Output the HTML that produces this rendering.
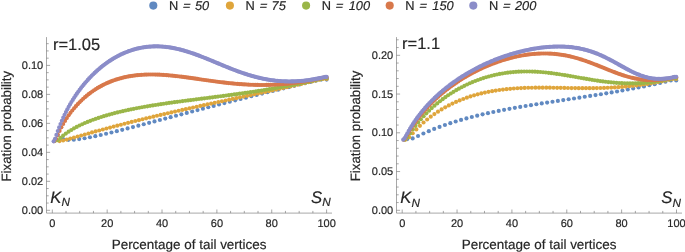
<!DOCTYPE html>
<html><head><meta charset="utf-8"><title>Fixation probability</title>
<style>html,body{margin:0;padding:0;background:#fff}svg{display:block;will-change:transform}text{font-family:"Liberation Sans",sans-serif;fill:#262626;stroke:#262626;stroke-width:0.18px;text-rendering:geometricPrecision}</style></head>
<body>
<svg width="685" height="252" viewBox="0 0 685 252">
<rect width="685" height="252" fill="#fff"/>
<defs><filter id="soft" x="-5%" y="-5%" width="110%" height="110%"><feGaussianBlur stdDeviation="0.32"/></filter></defs>
<circle cx="153.3" cy="5.6" r="4.05" fill="#6089c1"/><text x="168.9" y="9.5" font-size="12.8">N</text><text transform="translate(182.3 9.5) skewX(-12)" font-size="12.8">=</text><text x="195.0" y="9.5" font-size="12.8" font-style="italic">50</text>
<circle cx="229.9" cy="5.6" r="4.05" fill="#dfa53b"/><text x="245.5" y="9.5" font-size="12.8">N</text><text transform="translate(258.9 9.5) skewX(-12)" font-size="12.8">=</text><text x="271.6" y="9.5" font-size="12.8" font-style="italic">75</text>
<circle cx="306.1" cy="5.6" r="4.05" fill="#9ab648"/><text x="321.7" y="9.5" font-size="12.8">N</text><text transform="translate(335.1 9.5) skewX(-12)" font-size="12.8">=</text><text x="348.7" y="9.5" font-size="12.8" font-style="italic">100</text>
<circle cx="389.7" cy="5.6" r="4.05" fill="#d8784b"/><text x="405.3" y="9.5" font-size="12.8">N</text><text transform="translate(418.7 9.5) skewX(-12)" font-size="12.8">=</text><text x="432.3" y="9.5" font-size="12.8" font-style="italic">150</text>
<circle cx="473.3" cy="5.6" r="4.05" fill="#8b8dc9"/><text x="488.9" y="9.5" font-size="12.8">N</text><text transform="translate(502.3 9.5) skewX(-12)" font-size="12.8">=</text><text x="515.0" y="9.5" font-size="12.8" font-style="italic">200</text>
<g filter="url(#soft)"><g fill="#6089c1"><circle cx="57.68" cy="135.05" r="2.08"/><circle cx="63.06" cy="139.04" r="2.08"/><circle cx="68.44" cy="139.82" r="2.08"/><circle cx="73.81" cy="139.67" r="2.08"/><circle cx="79.19" cy="139.08" r="2.08"/><circle cx="84.57" cy="138.24" r="2.08"/><circle cx="89.95" cy="137.25" r="2.08"/><circle cx="95.33" cy="136.15" r="2.08"/><circle cx="100.71" cy="134.97" r="2.08"/><circle cx="106.08" cy="133.74" r="2.08"/><circle cx="111.46" cy="132.46" r="2.08"/><circle cx="116.84" cy="131.14" r="2.08"/><circle cx="122.22" cy="129.80" r="2.08"/><circle cx="127.60" cy="128.44" r="2.08"/><circle cx="132.98" cy="127.06" r="2.08"/><circle cx="138.35" cy="125.67" r="2.08"/><circle cx="143.73" cy="124.26" r="2.08"/><circle cx="149.11" cy="122.85" r="2.08"/><circle cx="154.49" cy="121.44" r="2.08"/><circle cx="159.87" cy="120.02" r="2.08"/><circle cx="165.25" cy="118.59" r="2.08"/><circle cx="170.63" cy="117.17" r="2.08"/><circle cx="176.00" cy="115.75" r="2.08"/><circle cx="181.38" cy="114.33" r="2.08"/><circle cx="186.76" cy="112.91" r="2.08"/><circle cx="192.14" cy="111.49" r="2.08"/><circle cx="197.52" cy="110.08" r="2.08"/><circle cx="202.90" cy="108.68" r="2.08"/><circle cx="208.27" cy="107.27" r="2.08"/><circle cx="213.65" cy="105.88" r="2.08"/><circle cx="219.03" cy="104.49" r="2.08"/><circle cx="224.41" cy="103.10" r="2.08"/><circle cx="229.79" cy="101.72" r="2.08"/><circle cx="235.17" cy="100.35" r="2.08"/><circle cx="240.55" cy="98.99" r="2.08"/><circle cx="245.92" cy="97.63" r="2.08"/><circle cx="251.30" cy="96.29" r="2.08"/><circle cx="256.68" cy="94.95" r="2.08"/><circle cx="262.06" cy="93.62" r="2.08"/><circle cx="267.44" cy="92.29" r="2.08"/><circle cx="272.82" cy="90.98" r="2.08"/><circle cx="278.19" cy="89.67" r="2.08"/><circle cx="283.57" cy="88.37" r="2.08"/><circle cx="288.95" cy="87.09" r="2.08"/><circle cx="294.33" cy="85.81" r="2.08"/><circle cx="299.71" cy="84.54" r="2.08"/><circle cx="305.09" cy="83.28" r="2.08"/><circle cx="310.46" cy="82.02" r="2.08"/><circle cx="315.84" cy="80.78" r="2.08"/><circle cx="321.22" cy="79.55" r="2.08"/><circle cx="326.60" cy="79.55" r="2.08"/></g>
<g fill="#dfa53b"><circle cx="55.91" cy="139.57" r="2.08"/><circle cx="59.52" cy="141.08" r="2.08"/><circle cx="63.13" cy="140.52" r="2.08"/><circle cx="66.74" cy="139.60" r="2.08"/><circle cx="70.35" cy="138.59" r="2.08"/><circle cx="73.96" cy="137.56" r="2.08"/><circle cx="77.56" cy="136.53" r="2.08"/><circle cx="81.17" cy="135.50" r="2.08"/><circle cx="84.78" cy="134.48" r="2.08"/><circle cx="88.39" cy="133.46" r="2.08"/><circle cx="92.00" cy="132.45" r="2.08"/><circle cx="95.61" cy="131.45" r="2.08"/><circle cx="99.22" cy="130.46" r="2.08"/><circle cx="102.83" cy="129.48" r="2.08"/><circle cx="106.44" cy="128.51" r="2.08"/><circle cx="110.05" cy="127.55" r="2.08"/><circle cx="113.66" cy="126.59" r="2.08"/><circle cx="117.27" cy="125.64" r="2.08"/><circle cx="120.88" cy="124.71" r="2.08"/><circle cx="124.48" cy="123.78" r="2.08"/><circle cx="128.09" cy="122.86" r="2.08"/><circle cx="131.70" cy="121.94" r="2.08"/><circle cx="135.31" cy="121.04" r="2.08"/><circle cx="138.92" cy="120.14" r="2.08"/><circle cx="142.53" cy="119.25" r="2.08"/><circle cx="146.14" cy="118.37" r="2.08"/><circle cx="149.75" cy="117.50" r="2.08"/><circle cx="153.36" cy="116.64" r="2.08"/><circle cx="156.97" cy="115.78" r="2.08"/><circle cx="160.58" cy="114.93" r="2.08"/><circle cx="164.19" cy="114.08" r="2.08"/><circle cx="167.79" cy="113.24" r="2.08"/><circle cx="171.40" cy="112.41" r="2.08"/><circle cx="175.01" cy="111.59" r="2.08"/><circle cx="178.62" cy="110.77" r="2.08"/><circle cx="182.23" cy="109.95" r="2.08"/><circle cx="185.84" cy="109.14" r="2.08"/><circle cx="189.45" cy="108.34" r="2.08"/><circle cx="193.06" cy="107.53" r="2.08"/><circle cx="196.67" cy="106.74" r="2.08"/><circle cx="200.28" cy="105.94" r="2.08"/><circle cx="203.89" cy="105.15" r="2.08"/><circle cx="207.50" cy="104.37" r="2.08"/><circle cx="211.11" cy="103.58" r="2.08"/><circle cx="214.71" cy="102.80" r="2.08"/><circle cx="218.32" cy="102.02" r="2.08"/><circle cx="221.93" cy="101.24" r="2.08"/><circle cx="225.54" cy="100.47" r="2.08"/><circle cx="229.15" cy="99.69" r="2.08"/><circle cx="232.76" cy="98.92" r="2.08"/><circle cx="236.37" cy="98.14" r="2.08"/><circle cx="239.98" cy="97.37" r="2.08"/><circle cx="243.59" cy="96.60" r="2.08"/><circle cx="247.20" cy="95.82" r="2.08"/><circle cx="250.81" cy="95.05" r="2.08"/><circle cx="254.42" cy="94.27" r="2.08"/><circle cx="258.02" cy="93.49" r="2.08"/><circle cx="261.63" cy="92.71" r="2.08"/><circle cx="265.24" cy="91.93" r="2.08"/><circle cx="268.85" cy="91.15" r="2.08"/><circle cx="272.46" cy="90.36" r="2.08"/><circle cx="276.07" cy="89.57" r="2.08"/><circle cx="279.68" cy="88.78" r="2.08"/><circle cx="283.29" cy="87.98" r="2.08"/><circle cx="286.90" cy="87.18" r="2.08"/><circle cx="290.51" cy="86.38" r="2.08"/><circle cx="294.12" cy="85.57" r="2.08"/><circle cx="297.73" cy="84.76" r="2.08"/><circle cx="301.34" cy="83.94" r="2.08"/><circle cx="304.94" cy="83.12" r="2.08"/><circle cx="308.55" cy="82.29" r="2.08"/><circle cx="312.16" cy="81.45" r="2.08"/><circle cx="315.77" cy="80.61" r="2.08"/><circle cx="319.38" cy="79.76" r="2.08"/><circle cx="322.99" cy="78.90" r="2.08"/><circle cx="326.60" cy="78.90" r="2.08"/></g>
<g fill="#9ab648"><circle cx="55.02" cy="140.80" r="2.08"/><circle cx="57.73" cy="140.11" r="2.08"/><circle cx="60.45" cy="137.86" r="2.08"/><circle cx="63.16" cy="135.62" r="2.08"/><circle cx="65.88" cy="133.56" r="2.08"/><circle cx="68.60" cy="131.68" r="2.08"/><circle cx="71.31" cy="129.96" r="2.08"/><circle cx="74.03" cy="128.37" r="2.08"/><circle cx="76.74" cy="126.90" r="2.08"/><circle cx="79.46" cy="125.53" r="2.08"/><circle cx="82.17" cy="124.25" r="2.08"/><circle cx="84.89" cy="123.04" r="2.08"/><circle cx="87.61" cy="121.90" r="2.08"/><circle cx="90.32" cy="120.82" r="2.08"/><circle cx="93.04" cy="119.79" r="2.08"/><circle cx="95.75" cy="118.82" r="2.08"/><circle cx="98.47" cy="117.89" r="2.08"/><circle cx="101.19" cy="117.01" r="2.08"/><circle cx="103.90" cy="116.16" r="2.08"/><circle cx="106.62" cy="115.35" r="2.08"/><circle cx="109.33" cy="114.57" r="2.08"/><circle cx="112.05" cy="113.83" r="2.08"/><circle cx="114.76" cy="113.11" r="2.08"/><circle cx="117.48" cy="112.43" r="2.08"/><circle cx="120.20" cy="111.76" r="2.08"/><circle cx="122.91" cy="111.13" r="2.08"/><circle cx="125.63" cy="110.52" r="2.08"/><circle cx="128.34" cy="109.93" r="2.08"/><circle cx="131.06" cy="109.36" r="2.08"/><circle cx="133.78" cy="108.80" r="2.08"/><circle cx="136.49" cy="108.27" r="2.08"/><circle cx="139.21" cy="107.76" r="2.08"/><circle cx="141.92" cy="107.26" r="2.08"/><circle cx="144.64" cy="106.77" r="2.08"/><circle cx="147.35" cy="106.30" r="2.08"/><circle cx="150.07" cy="105.85" r="2.08"/><circle cx="152.79" cy="105.40" r="2.08"/><circle cx="155.50" cy="104.97" r="2.08"/><circle cx="158.22" cy="104.55" r="2.08"/><circle cx="160.93" cy="104.14" r="2.08"/><circle cx="163.65" cy="103.73" r="2.08"/><circle cx="166.37" cy="103.34" r="2.08"/><circle cx="169.08" cy="102.95" r="2.08"/><circle cx="171.80" cy="102.57" r="2.08"/><circle cx="174.51" cy="102.20" r="2.08"/><circle cx="177.23" cy="101.83" r="2.08"/><circle cx="179.94" cy="101.47" r="2.08"/><circle cx="182.66" cy="101.11" r="2.08"/><circle cx="185.38" cy="100.76" r="2.08"/><circle cx="188.09" cy="100.40" r="2.08"/><circle cx="190.81" cy="100.06" r="2.08"/><circle cx="193.52" cy="99.71" r="2.08"/><circle cx="196.24" cy="99.36" r="2.08"/><circle cx="198.96" cy="99.02" r="2.08"/><circle cx="201.67" cy="98.68" r="2.08"/><circle cx="204.39" cy="98.33" r="2.08"/><circle cx="207.10" cy="97.99" r="2.08"/><circle cx="209.82" cy="97.65" r="2.08"/><circle cx="212.53" cy="97.30" r="2.08"/><circle cx="215.25" cy="96.95" r="2.08"/><circle cx="217.97" cy="96.61" r="2.08"/><circle cx="220.68" cy="96.25" r="2.08"/><circle cx="223.40" cy="95.90" r="2.08"/><circle cx="226.11" cy="95.54" r="2.08"/><circle cx="228.83" cy="95.18" r="2.08"/><circle cx="231.55" cy="94.82" r="2.08"/><circle cx="234.26" cy="94.45" r="2.08"/><circle cx="236.98" cy="94.07" r="2.08"/><circle cx="239.69" cy="93.70" r="2.08"/><circle cx="242.41" cy="93.31" r="2.08"/><circle cx="245.12" cy="92.92" r="2.08"/><circle cx="247.84" cy="92.53" r="2.08"/><circle cx="250.56" cy="92.13" r="2.08"/><circle cx="253.27" cy="91.72" r="2.08"/><circle cx="255.99" cy="91.31" r="2.08"/><circle cx="258.70" cy="90.89" r="2.08"/><circle cx="261.42" cy="90.46" r="2.08"/><circle cx="264.14" cy="90.02" r="2.08"/><circle cx="266.85" cy="89.58" r="2.08"/><circle cx="269.57" cy="89.13" r="2.08"/><circle cx="272.28" cy="88.67" r="2.08"/><circle cx="275.00" cy="88.20" r="2.08"/><circle cx="277.71" cy="87.73" r="2.08"/><circle cx="280.43" cy="87.24" r="2.08"/><circle cx="283.15" cy="86.75" r="2.08"/><circle cx="285.86" cy="86.25" r="2.08"/><circle cx="288.58" cy="85.73" r="2.08"/><circle cx="291.29" cy="85.21" r="2.08"/><circle cx="294.01" cy="84.68" r="2.08"/><circle cx="296.73" cy="84.14" r="2.08"/><circle cx="299.44" cy="83.59" r="2.08"/><circle cx="302.16" cy="83.03" r="2.08"/><circle cx="304.87" cy="82.46" r="2.08"/><circle cx="307.59" cy="81.87" r="2.08"/><circle cx="310.30" cy="81.28" r="2.08"/><circle cx="313.02" cy="80.68" r="2.08"/><circle cx="315.74" cy="80.06" r="2.08"/><circle cx="318.45" cy="79.44" r="2.08"/><circle cx="321.17" cy="78.80" r="2.08"/><circle cx="323.88" cy="78.16" r="2.08"/><circle cx="326.60" cy="78.16" r="2.08"/></g>
<g fill="#d8784b"><circle cx="54.12" cy="141.26" r="2.08"/><circle cx="55.93" cy="138.75" r="2.08"/><circle cx="57.75" cy="134.81" r="2.08"/><circle cx="59.57" cy="130.95" r="2.08"/><circle cx="61.38" cy="127.36" r="2.08"/><circle cx="63.20" cy="124.02" r="2.08"/><circle cx="65.02" cy="120.93" r="2.08"/><circle cx="66.83" cy="118.05" r="2.08"/><circle cx="68.65" cy="115.36" r="2.08"/><circle cx="70.47" cy="112.84" r="2.08"/><circle cx="72.28" cy="110.47" r="2.08"/><circle cx="74.10" cy="108.24" r="2.08"/><circle cx="75.92" cy="106.13" r="2.08"/><circle cx="77.73" cy="104.14" r="2.08"/><circle cx="79.55" cy="102.25" r="2.08"/><circle cx="81.36" cy="100.46" r="2.08"/><circle cx="83.18" cy="98.77" r="2.08"/><circle cx="85.00" cy="97.16" r="2.08"/><circle cx="86.81" cy="95.63" r="2.08"/><circle cx="88.63" cy="94.18" r="2.08"/><circle cx="90.45" cy="92.80" r="2.08"/><circle cx="92.26" cy="91.49" r="2.08"/><circle cx="94.08" cy="90.25" r="2.08"/><circle cx="95.90" cy="89.07" r="2.08"/><circle cx="97.71" cy="87.95" r="2.08"/><circle cx="99.53" cy="86.89" r="2.08"/><circle cx="101.35" cy="85.89" r="2.08"/><circle cx="103.16" cy="84.94" r="2.08"/><circle cx="104.98" cy="84.04" r="2.08"/><circle cx="106.80" cy="83.20" r="2.08"/><circle cx="108.61" cy="82.40" r="2.08"/><circle cx="110.43" cy="81.65" r="2.08"/><circle cx="112.25" cy="80.94" r="2.08"/><circle cx="114.06" cy="80.28" r="2.08"/><circle cx="115.88" cy="79.67" r="2.08"/><circle cx="117.70" cy="79.09" r="2.08"/><circle cx="119.51" cy="78.55" r="2.08"/><circle cx="121.33" cy="78.06" r="2.08"/><circle cx="123.15" cy="77.60" r="2.08"/><circle cx="124.96" cy="77.17" r="2.08"/><circle cx="126.78" cy="76.78" r="2.08"/><circle cx="128.60" cy="76.43" r="2.08"/><circle cx="130.41" cy="76.11" r="2.08"/><circle cx="132.23" cy="75.82" r="2.08"/><circle cx="134.05" cy="75.57" r="2.08"/><circle cx="135.86" cy="75.34" r="2.08"/><circle cx="137.68" cy="75.14" r="2.08"/><circle cx="139.49" cy="74.97" r="2.08"/><circle cx="141.31" cy="74.83" r="2.08"/><circle cx="143.13" cy="74.72" r="2.08"/><circle cx="144.94" cy="74.62" r="2.08"/><circle cx="146.76" cy="74.56" r="2.08"/><circle cx="148.58" cy="74.51" r="2.08"/><circle cx="150.39" cy="74.49" r="2.08"/><circle cx="152.21" cy="74.49" r="2.08"/><circle cx="154.03" cy="74.52" r="2.08"/><circle cx="155.84" cy="74.56" r="2.08"/><circle cx="157.66" cy="74.62" r="2.08"/><circle cx="159.48" cy="74.69" r="2.08"/><circle cx="161.29" cy="74.79" r="2.08"/><circle cx="163.11" cy="74.90" r="2.08"/><circle cx="164.93" cy="75.02" r="2.08"/><circle cx="166.74" cy="75.16" r="2.08"/><circle cx="168.56" cy="75.32" r="2.08"/><circle cx="170.38" cy="75.48" r="2.08"/><circle cx="172.19" cy="75.66" r="2.08"/><circle cx="174.01" cy="75.85" r="2.08"/><circle cx="175.83" cy="76.05" r="2.08"/><circle cx="177.64" cy="76.26" r="2.08"/><circle cx="179.46" cy="76.48" r="2.08"/><circle cx="181.28" cy="76.70" r="2.08"/><circle cx="183.09" cy="76.93" r="2.08"/><circle cx="184.91" cy="77.17" r="2.08"/><circle cx="186.73" cy="77.41" r="2.08"/><circle cx="188.54" cy="77.66" r="2.08"/><circle cx="190.36" cy="77.92" r="2.08"/><circle cx="192.17" cy="78.17" r="2.08"/><circle cx="193.99" cy="78.43" r="2.08"/><circle cx="195.81" cy="78.69" r="2.08"/><circle cx="197.62" cy="78.95" r="2.08"/><circle cx="199.44" cy="79.22" r="2.08"/><circle cx="201.26" cy="79.48" r="2.08"/><circle cx="203.07" cy="79.74" r="2.08"/><circle cx="204.89" cy="80.00" r="2.08"/><circle cx="206.71" cy="80.26" r="2.08"/><circle cx="208.52" cy="80.52" r="2.08"/><circle cx="210.34" cy="80.77" r="2.08"/><circle cx="212.16" cy="81.02" r="2.08"/><circle cx="213.97" cy="81.27" r="2.08"/><circle cx="215.79" cy="81.51" r="2.08"/><circle cx="217.61" cy="81.75" r="2.08"/><circle cx="219.42" cy="81.98" r="2.08"/><circle cx="221.24" cy="82.21" r="2.08"/><circle cx="223.06" cy="82.43" r="2.08"/><circle cx="224.87" cy="82.64" r="2.08"/><circle cx="226.69" cy="82.85" r="2.08"/><circle cx="228.51" cy="83.05" r="2.08"/><circle cx="230.32" cy="83.24" r="2.08"/><circle cx="232.14" cy="83.42" r="2.08"/><circle cx="233.96" cy="83.59" r="2.08"/><circle cx="235.77" cy="83.76" r="2.08"/><circle cx="237.59" cy="83.91" r="2.08"/><circle cx="239.41" cy="84.06" r="2.08"/><circle cx="241.22" cy="84.20" r="2.08"/><circle cx="243.04" cy="84.32" r="2.08"/><circle cx="244.85" cy="84.44" r="2.08"/><circle cx="246.67" cy="84.54" r="2.08"/><circle cx="248.49" cy="84.64" r="2.08"/><circle cx="250.30" cy="84.72" r="2.08"/><circle cx="252.12" cy="84.79" r="2.08"/><circle cx="253.94" cy="84.85" r="2.08"/><circle cx="255.75" cy="84.90" r="2.08"/><circle cx="257.57" cy="84.94" r="2.08"/><circle cx="259.39" cy="84.96" r="2.08"/><circle cx="261.20" cy="84.98" r="2.08"/><circle cx="263.02" cy="84.98" r="2.08"/><circle cx="264.84" cy="84.96" r="2.08"/><circle cx="266.65" cy="84.94" r="2.08"/><circle cx="268.47" cy="84.90" r="2.08"/><circle cx="270.29" cy="84.85" r="2.08"/><circle cx="272.10" cy="84.79" r="2.08"/><circle cx="273.92" cy="84.71" r="2.08"/><circle cx="275.74" cy="84.62" r="2.08"/><circle cx="277.55" cy="84.52" r="2.08"/><circle cx="279.37" cy="84.41" r="2.08"/><circle cx="281.19" cy="84.28" r="2.08"/><circle cx="283.00" cy="84.14" r="2.08"/><circle cx="284.82" cy="83.99" r="2.08"/><circle cx="286.64" cy="83.82" r="2.08"/><circle cx="288.45" cy="83.64" r="2.08"/><circle cx="290.27" cy="83.44" r="2.08"/><circle cx="292.09" cy="83.24" r="2.08"/><circle cx="293.90" cy="83.02" r="2.08"/><circle cx="295.72" cy="82.78" r="2.08"/><circle cx="297.54" cy="82.54" r="2.08"/><circle cx="299.35" cy="82.28" r="2.08"/><circle cx="301.17" cy="82.01" r="2.08"/><circle cx="302.98" cy="81.72" r="2.08"/><circle cx="304.80" cy="81.42" r="2.08"/><circle cx="306.62" cy="81.11" r="2.08"/><circle cx="308.43" cy="80.79" r="2.08"/><circle cx="310.25" cy="80.45" r="2.08"/><circle cx="312.07" cy="80.10" r="2.08"/><circle cx="313.88" cy="79.74" r="2.08"/><circle cx="315.70" cy="79.37" r="2.08"/><circle cx="317.52" cy="78.98" r="2.08"/><circle cx="319.33" cy="78.58" r="2.08"/><circle cx="321.15" cy="78.17" r="2.08"/><circle cx="322.97" cy="77.75" r="2.08"/><circle cx="324.78" cy="77.32" r="2.08"/><circle cx="326.60" cy="77.32" r="2.08"/></g>
<g fill="#8b8dc9"><circle cx="53.66" cy="141.30" r="2.08"/><circle cx="55.03" cy="138.77" r="2.08"/><circle cx="56.39" cy="134.92" r="2.08"/><circle cx="57.76" cy="131.07" r="2.08"/><circle cx="59.12" cy="127.42" r="2.08"/><circle cx="60.49" cy="123.98" r="2.08"/><circle cx="61.85" cy="120.74" r="2.08"/><circle cx="63.22" cy="117.67" r="2.08"/><circle cx="64.58" cy="114.76" r="2.08"/><circle cx="65.95" cy="112.00" r="2.08"/><circle cx="67.31" cy="109.36" r="2.08"/><circle cx="68.68" cy="106.84" r="2.08"/><circle cx="70.04" cy="104.42" r="2.08"/><circle cx="71.41" cy="102.11" r="2.08"/><circle cx="72.77" cy="99.88" r="2.08"/><circle cx="74.13" cy="97.73" r="2.08"/><circle cx="75.50" cy="95.67" r="2.08"/><circle cx="76.86" cy="93.68" r="2.08"/><circle cx="78.23" cy="91.75" r="2.08"/><circle cx="79.59" cy="89.89" r="2.08"/><circle cx="80.96" cy="88.09" r="2.08"/><circle cx="82.32" cy="86.35" r="2.08"/><circle cx="83.69" cy="84.67" r="2.08"/><circle cx="85.05" cy="83.04" r="2.08"/><circle cx="86.42" cy="81.46" r="2.08"/><circle cx="87.78" cy="79.92" r="2.08"/><circle cx="89.15" cy="78.44" r="2.08"/><circle cx="90.51" cy="77.00" r="2.08"/><circle cx="91.88" cy="75.60" r="2.08"/><circle cx="93.24" cy="74.25" r="2.08"/><circle cx="94.60" cy="72.94" r="2.08"/><circle cx="95.97" cy="71.67" r="2.08"/><circle cx="97.33" cy="70.43" r="2.08"/><circle cx="98.70" cy="69.24" r="2.08"/><circle cx="100.06" cy="68.08" r="2.08"/><circle cx="101.43" cy="66.95" r="2.08"/><circle cx="102.79" cy="65.87" r="2.08"/><circle cx="104.16" cy="64.81" r="2.08"/><circle cx="105.52" cy="63.80" r="2.08"/><circle cx="106.89" cy="62.81" r="2.08"/><circle cx="108.25" cy="61.86" r="2.08"/><circle cx="109.62" cy="60.94" r="2.08"/><circle cx="110.98" cy="60.05" r="2.08"/><circle cx="112.35" cy="59.19" r="2.08"/><circle cx="113.71" cy="58.36" r="2.08"/><circle cx="115.08" cy="57.57" r="2.08"/><circle cx="116.44" cy="56.80" r="2.08"/><circle cx="117.80" cy="56.06" r="2.08"/><circle cx="119.17" cy="55.36" r="2.08"/><circle cx="120.53" cy="54.68" r="2.08"/><circle cx="121.90" cy="54.03" r="2.08"/><circle cx="123.26" cy="53.41" r="2.08"/><circle cx="124.63" cy="52.81" r="2.08"/><circle cx="125.99" cy="52.25" r="2.08"/><circle cx="127.36" cy="51.71" r="2.08"/><circle cx="128.72" cy="51.20" r="2.08"/><circle cx="130.09" cy="50.71" r="2.08"/><circle cx="131.45" cy="50.26" r="2.08"/><circle cx="132.82" cy="49.82" r="2.08"/><circle cx="134.18" cy="49.42" r="2.08"/><circle cx="135.55" cy="49.04" r="2.08"/><circle cx="136.91" cy="48.69" r="2.08"/><circle cx="138.27" cy="48.36" r="2.08"/><circle cx="139.64" cy="48.06" r="2.08"/><circle cx="141.00" cy="47.79" r="2.08"/><circle cx="142.37" cy="47.54" r="2.08"/><circle cx="143.73" cy="47.31" r="2.08"/><circle cx="145.10" cy="47.11" r="2.08"/><circle cx="146.46" cy="46.93" r="2.08"/><circle cx="147.83" cy="46.78" r="2.08"/><circle cx="149.19" cy="46.65" r="2.08"/><circle cx="150.56" cy="46.55" r="2.08"/><circle cx="151.92" cy="46.47" r="2.08"/><circle cx="153.29" cy="46.41" r="2.08"/><circle cx="154.65" cy="46.38" r="2.08"/><circle cx="156.02" cy="46.36" r="2.08"/><circle cx="157.38" cy="46.37" r="2.08"/><circle cx="158.74" cy="46.41" r="2.08"/><circle cx="160.11" cy="46.46" r="2.08"/><circle cx="161.47" cy="46.54" r="2.08"/><circle cx="162.84" cy="46.64" r="2.08"/><circle cx="164.20" cy="46.76" r="2.08"/><circle cx="165.57" cy="46.90" r="2.08"/><circle cx="166.93" cy="47.06" r="2.08"/><circle cx="168.30" cy="47.24" r="2.08"/><circle cx="169.66" cy="47.44" r="2.08"/><circle cx="171.03" cy="47.66" r="2.08"/><circle cx="172.39" cy="47.90" r="2.08"/><circle cx="173.76" cy="48.16" r="2.08"/><circle cx="175.12" cy="48.43" r="2.08"/><circle cx="176.49" cy="48.72" r="2.08"/><circle cx="177.85" cy="49.03" r="2.08"/><circle cx="179.21" cy="49.36" r="2.08"/><circle cx="180.58" cy="49.70" r="2.08"/><circle cx="181.94" cy="50.06" r="2.08"/><circle cx="183.31" cy="50.44" r="2.08"/><circle cx="184.67" cy="50.83" r="2.08"/><circle cx="186.04" cy="51.23" r="2.08"/><circle cx="187.40" cy="51.65" r="2.08"/><circle cx="188.77" cy="52.08" r="2.08"/><circle cx="190.13" cy="52.52" r="2.08"/><circle cx="191.50" cy="52.98" r="2.08"/><circle cx="192.86" cy="53.45" r="2.08"/><circle cx="194.23" cy="53.92" r="2.08"/><circle cx="195.59" cy="54.41" r="2.08"/><circle cx="196.96" cy="54.91" r="2.08"/><circle cx="198.32" cy="55.42" r="2.08"/><circle cx="199.69" cy="55.93" r="2.08"/><circle cx="201.05" cy="56.46" r="2.08"/><circle cx="202.41" cy="56.99" r="2.08"/><circle cx="203.78" cy="57.53" r="2.08"/><circle cx="205.14" cy="58.07" r="2.08"/><circle cx="206.51" cy="58.62" r="2.08"/><circle cx="207.87" cy="59.17" r="2.08"/><circle cx="209.24" cy="59.73" r="2.08"/><circle cx="210.60" cy="60.29" r="2.08"/><circle cx="211.97" cy="60.86" r="2.08"/><circle cx="213.33" cy="61.42" r="2.08"/><circle cx="214.70" cy="61.99" r="2.08"/><circle cx="216.06" cy="62.56" r="2.08"/><circle cx="217.43" cy="63.13" r="2.08"/><circle cx="218.79" cy="63.70" r="2.08"/><circle cx="220.16" cy="64.27" r="2.08"/><circle cx="221.52" cy="64.83" r="2.08"/><circle cx="222.88" cy="65.40" r="2.08"/><circle cx="224.25" cy="65.96" r="2.08"/><circle cx="225.61" cy="66.52" r="2.08"/><circle cx="226.98" cy="67.07" r="2.08"/><circle cx="228.34" cy="67.62" r="2.08"/><circle cx="229.71" cy="68.17" r="2.08"/><circle cx="231.07" cy="68.71" r="2.08"/><circle cx="232.44" cy="69.24" r="2.08"/><circle cx="233.80" cy="69.77" r="2.08"/><circle cx="235.17" cy="70.29" r="2.08"/><circle cx="236.53" cy="70.80" r="2.08"/><circle cx="237.90" cy="71.30" r="2.08"/><circle cx="239.26" cy="71.80" r="2.08"/><circle cx="240.63" cy="72.29" r="2.08"/><circle cx="241.99" cy="72.76" r="2.08"/><circle cx="243.35" cy="73.23" r="2.08"/><circle cx="244.72" cy="73.69" r="2.08"/><circle cx="246.08" cy="74.14" r="2.08"/><circle cx="247.45" cy="74.57" r="2.08"/><circle cx="248.81" cy="75.00" r="2.08"/><circle cx="250.18" cy="75.41" r="2.08"/><circle cx="251.54" cy="75.81" r="2.08"/><circle cx="252.91" cy="76.20" r="2.08"/><circle cx="254.27" cy="76.58" r="2.08"/><circle cx="255.64" cy="76.94" r="2.08"/><circle cx="257.00" cy="77.29" r="2.08"/><circle cx="258.37" cy="77.63" r="2.08"/><circle cx="259.73" cy="77.95" r="2.08"/><circle cx="261.10" cy="78.27" r="2.08"/><circle cx="262.46" cy="78.56" r="2.08"/><circle cx="263.82" cy="78.85" r="2.08"/><circle cx="265.19" cy="79.12" r="2.08"/><circle cx="266.55" cy="79.37" r="2.08"/><circle cx="267.92" cy="79.61" r="2.08"/><circle cx="269.28" cy="79.84" r="2.08"/><circle cx="270.65" cy="80.05" r="2.08"/><circle cx="272.01" cy="80.25" r="2.08"/><circle cx="273.38" cy="80.43" r="2.08"/><circle cx="274.74" cy="80.60" r="2.08"/><circle cx="276.11" cy="80.75" r="2.08"/><circle cx="277.47" cy="80.89" r="2.08"/><circle cx="278.84" cy="81.01" r="2.08"/><circle cx="280.20" cy="81.12" r="2.08"/><circle cx="281.57" cy="81.21" r="2.08"/><circle cx="282.93" cy="81.29" r="2.08"/><circle cx="284.30" cy="81.35" r="2.08"/><circle cx="285.66" cy="81.40" r="2.08"/><circle cx="287.02" cy="81.44" r="2.08"/><circle cx="288.39" cy="81.46" r="2.08"/><circle cx="289.75" cy="81.46" r="2.08"/><circle cx="291.12" cy="81.45" r="2.08"/><circle cx="292.48" cy="81.43" r="2.08"/><circle cx="293.85" cy="81.39" r="2.08"/><circle cx="295.21" cy="81.34" r="2.08"/><circle cx="296.58" cy="81.27" r="2.08"/><circle cx="297.94" cy="81.19" r="2.08"/><circle cx="299.31" cy="81.10" r="2.08"/><circle cx="300.67" cy="80.99" r="2.08"/><circle cx="302.04" cy="80.87" r="2.08"/><circle cx="303.40" cy="80.74" r="2.08"/><circle cx="304.77" cy="80.59" r="2.08"/><circle cx="306.13" cy="80.43" r="2.08"/><circle cx="307.49" cy="80.25" r="2.08"/><circle cx="308.86" cy="80.07" r="2.08"/><circle cx="310.22" cy="79.87" r="2.08"/><circle cx="311.59" cy="79.65" r="2.08"/><circle cx="312.95" cy="79.43" r="2.08"/><circle cx="314.32" cy="79.19" r="2.08"/><circle cx="315.68" cy="78.94" r="2.08"/><circle cx="317.05" cy="78.68" r="2.08"/><circle cx="318.41" cy="78.41" r="2.08"/><circle cx="319.78" cy="78.13" r="2.08"/><circle cx="321.14" cy="77.84" r="2.08"/><circle cx="322.51" cy="77.53" r="2.08"/><circle cx="323.87" cy="77.21" r="2.08"/><circle cx="325.24" cy="76.89" r="2.08"/><circle cx="326.60" cy="76.89" r="2.08"/></g>
</g>
<g stroke="#727272" stroke-width="0.62" fill="none" shape-rendering="auto"><path d="M46.5 37.1V213.1H332"/><path d="M52.30 213.1v-3.6M66.02 213.1v-2.2M79.73 213.1v-2.2M93.44 213.1v-2.2M107.16 213.1v-3.6M120.88 213.1v-2.2M134.59 213.1v-2.2M148.31 213.1v-2.2M162.02 213.1v-3.6M175.73 213.1v-2.2M189.45 213.1v-2.2M203.16 213.1v-2.2M216.88 213.1v-3.6M230.59 213.1v-2.2M244.31 213.1v-2.2M258.02 213.1v-2.2M271.74 213.1v-3.6M285.45 213.1v-2.2M299.17 213.1v-2.2M312.88 213.1v-2.2M326.60 213.1v-3.6M46.5 210.30h3.6M46.5 203.06h2.2M46.5 195.81h2.2M46.5 188.56h2.2M46.5 181.32h3.6M46.5 174.08h2.2M46.5 166.83h2.2M46.5 159.59h2.2M46.5 152.34h3.6M46.5 145.10h2.2M46.5 137.85h2.2M46.5 130.61h2.2M46.5 123.36h3.6M46.5 116.12h2.2M46.5 108.87h2.2M46.5 101.63h2.2M46.5 94.38h3.6M46.5 87.14h2.2M46.5 79.89h2.2M46.5 72.65h2.2M46.5 65.40h3.6M46.5 58.16h2.2M46.5 50.91h2.2M46.5 43.66h2.2"/></g>
<text x="52.3" y="227.2" font-size="11" text-anchor="middle">0</text><text x="107.2" y="227.2" font-size="11" text-anchor="middle">20</text><text x="162.0" y="227.2" font-size="11" text-anchor="middle">40</text><text x="216.9" y="227.2" font-size="11" text-anchor="middle">60</text><text x="271.7" y="227.2" font-size="11" text-anchor="middle">80</text><text x="326.6" y="227.2" font-size="11" text-anchor="middle">100</text><text x="43.2" y="213.9" font-size="11" text-anchor="end">0.00</text><text x="43.2" y="184.9" font-size="11" text-anchor="end">0.02</text><text x="43.2" y="155.9" font-size="11" text-anchor="end">0.04</text><text x="43.2" y="127.0" font-size="11" text-anchor="end">0.06</text><text x="43.2" y="98.0" font-size="11" text-anchor="end">0.08</text><text x="43.2" y="69.0" font-size="11" text-anchor="end">0.10</text>
<text x="52.9" y="49.7" font-size="16.5">r=1.05</text><text x="50.2" y="202.7" font-size="16.7" font-style="italic">K<tspan font-size="11.7" dx="0.2" dy="3.4">N</tspan></text><text x="311.0" y="202.9" font-size="16.7" font-style="italic">S<tspan font-size="11.7" dx="0.2" dy="3.2">N</tspan></text><text x="189.1" y="248.8" font-size="13.4" text-anchor="middle" textLength="154.8" lengthAdjust="spacingAndGlyphs">Percentage of tail vertices</text><text transform="translate(11.0 126.2) rotate(-90)" font-size="13.5" text-anchor="middle" textLength="110.6" lengthAdjust="spacingAndGlyphs">Fixation probability</text>
<g filter="url(#soft)"><g fill="#6089c1"><circle cx="407.28" cy="139.10" r="2.08"/><circle cx="412.66" cy="138.44" r="2.08"/><circle cx="418.04" cy="136.02" r="2.08"/><circle cx="423.41" cy="133.52" r="2.08"/><circle cx="428.79" cy="131.16" r="2.08"/><circle cx="434.17" cy="128.94" r="2.08"/><circle cx="439.55" cy="126.88" r="2.08"/><circle cx="444.93" cy="124.96" r="2.08"/><circle cx="450.31" cy="123.16" r="2.08"/><circle cx="455.68" cy="121.47" r="2.08"/><circle cx="461.06" cy="119.88" r="2.08"/><circle cx="466.44" cy="118.39" r="2.08"/><circle cx="471.82" cy="116.97" r="2.08"/><circle cx="477.20" cy="115.63" r="2.08"/><circle cx="482.58" cy="114.36" r="2.08"/><circle cx="487.95" cy="113.16" r="2.08"/><circle cx="493.33" cy="112.01" r="2.08"/><circle cx="498.71" cy="110.91" r="2.08"/><circle cx="504.09" cy="109.86" r="2.08"/><circle cx="509.47" cy="108.84" r="2.08"/><circle cx="514.85" cy="107.87" r="2.08"/><circle cx="520.23" cy="106.93" r="2.08"/><circle cx="525.60" cy="106.02" r="2.08"/><circle cx="530.98" cy="105.13" r="2.08"/><circle cx="536.36" cy="104.26" r="2.08"/><circle cx="541.74" cy="103.41" r="2.08"/><circle cx="547.12" cy="102.57" r="2.08"/><circle cx="552.50" cy="101.74" r="2.08"/><circle cx="557.87" cy="100.92" r="2.08"/><circle cx="563.25" cy="100.10" r="2.08"/><circle cx="568.63" cy="99.28" r="2.08"/><circle cx="574.01" cy="98.46" r="2.08"/><circle cx="579.39" cy="97.63" r="2.08"/><circle cx="584.77" cy="96.79" r="2.08"/><circle cx="590.15" cy="95.94" r="2.08"/><circle cx="595.52" cy="95.08" r="2.08"/><circle cx="600.90" cy="94.21" r="2.08"/><circle cx="606.28" cy="93.31" r="2.08"/><circle cx="611.66" cy="92.40" r="2.08"/><circle cx="617.04" cy="91.46" r="2.08"/><circle cx="622.42" cy="90.50" r="2.08"/><circle cx="627.79" cy="89.52" r="2.08"/><circle cx="633.17" cy="88.50" r="2.08"/><circle cx="638.55" cy="87.46" r="2.08"/><circle cx="643.93" cy="86.39" r="2.08"/><circle cx="649.31" cy="85.28" r="2.08"/><circle cx="654.69" cy="84.15" r="2.08"/><circle cx="660.06" cy="82.97" r="2.08"/><circle cx="665.44" cy="81.76" r="2.08"/><circle cx="670.82" cy="80.52" r="2.08"/><circle cx="676.20" cy="80.52" r="2.08"/></g>
<g fill="#dfa53b"><circle cx="405.51" cy="139.60" r="2.08"/><circle cx="409.12" cy="137.17" r="2.08"/><circle cx="412.73" cy="133.27" r="2.08"/><circle cx="416.34" cy="129.43" r="2.08"/><circle cx="419.95" cy="125.85" r="2.08"/><circle cx="423.56" cy="122.54" r="2.08"/><circle cx="427.16" cy="119.49" r="2.08"/><circle cx="430.77" cy="116.67" r="2.08"/><circle cx="434.38" cy="114.06" r="2.08"/><circle cx="437.99" cy="111.64" r="2.08"/><circle cx="441.60" cy="109.39" r="2.08"/><circle cx="445.21" cy="107.31" r="2.08"/><circle cx="448.82" cy="105.38" r="2.08"/><circle cx="452.43" cy="103.59" r="2.08"/><circle cx="456.04" cy="101.92" r="2.08"/><circle cx="459.65" cy="100.39" r="2.08"/><circle cx="463.26" cy="98.97" r="2.08"/><circle cx="466.87" cy="97.66" r="2.08"/><circle cx="470.47" cy="96.45" r="2.08"/><circle cx="474.08" cy="95.35" r="2.08"/><circle cx="477.69" cy="94.33" r="2.08"/><circle cx="481.30" cy="93.41" r="2.08"/><circle cx="484.91" cy="92.58" r="2.08"/><circle cx="488.52" cy="91.83" r="2.08"/><circle cx="492.13" cy="91.15" r="2.08"/><circle cx="495.74" cy="90.55" r="2.08"/><circle cx="499.35" cy="90.02" r="2.08"/><circle cx="502.96" cy="89.55" r="2.08"/><circle cx="506.57" cy="89.15" r="2.08"/><circle cx="510.18" cy="88.80" r="2.08"/><circle cx="513.79" cy="88.51" r="2.08"/><circle cx="517.39" cy="88.26" r="2.08"/><circle cx="521.00" cy="88.07" r="2.08"/><circle cx="524.61" cy="87.91" r="2.08"/><circle cx="528.22" cy="87.79" r="2.08"/><circle cx="531.83" cy="87.71" r="2.08"/><circle cx="535.44" cy="87.66" r="2.08"/><circle cx="539.05" cy="87.64" r="2.08"/><circle cx="542.66" cy="87.64" r="2.08"/><circle cx="546.27" cy="87.66" r="2.08"/><circle cx="549.88" cy="87.69" r="2.08"/><circle cx="553.49" cy="87.74" r="2.08"/><circle cx="557.10" cy="87.80" r="2.08"/><circle cx="560.71" cy="87.86" r="2.08"/><circle cx="564.31" cy="87.93" r="2.08"/><circle cx="567.92" cy="87.99" r="2.08"/><circle cx="571.53" cy="88.05" r="2.08"/><circle cx="575.14" cy="88.10" r="2.08"/><circle cx="578.75" cy="88.14" r="2.08"/><circle cx="582.36" cy="88.17" r="2.08"/><circle cx="585.97" cy="88.18" r="2.08"/><circle cx="589.58" cy="88.17" r="2.08"/><circle cx="593.19" cy="88.15" r="2.08"/><circle cx="596.80" cy="88.09" r="2.08"/><circle cx="600.41" cy="88.02" r="2.08"/><circle cx="604.02" cy="87.91" r="2.08"/><circle cx="607.62" cy="87.78" r="2.08"/><circle cx="611.23" cy="87.61" r="2.08"/><circle cx="614.84" cy="87.41" r="2.08"/><circle cx="618.45" cy="87.18" r="2.08"/><circle cx="622.06" cy="86.91" r="2.08"/><circle cx="625.67" cy="86.60" r="2.08"/><circle cx="629.28" cy="86.26" r="2.08"/><circle cx="632.89" cy="85.87" r="2.08"/><circle cx="636.50" cy="85.45" r="2.08"/><circle cx="640.11" cy="84.98" r="2.08"/><circle cx="643.72" cy="84.48" r="2.08"/><circle cx="647.33" cy="83.93" r="2.08"/><circle cx="650.94" cy="83.34" r="2.08"/><circle cx="654.54" cy="82.71" r="2.08"/><circle cx="658.15" cy="82.04" r="2.08"/><circle cx="661.76" cy="81.32" r="2.08"/><circle cx="665.37" cy="80.57" r="2.08"/><circle cx="668.98" cy="79.77" r="2.08"/><circle cx="672.59" cy="78.93" r="2.08"/><circle cx="676.20" cy="78.93" r="2.08"/></g>
<g fill="#9ab648"><circle cx="404.62" cy="139.64" r="2.08"/><circle cx="407.33" cy="137.16" r="2.08"/><circle cx="410.05" cy="133.32" r="2.08"/><circle cx="412.76" cy="129.49" r="2.08"/><circle cx="415.48" cy="125.84" r="2.08"/><circle cx="418.20" cy="122.42" r="2.08"/><circle cx="420.91" cy="119.21" r="2.08"/><circle cx="423.63" cy="116.18" r="2.08"/><circle cx="426.34" cy="113.33" r="2.08"/><circle cx="429.06" cy="110.64" r="2.08"/><circle cx="431.77" cy="108.09" r="2.08"/><circle cx="434.49" cy="105.68" r="2.08"/><circle cx="437.21" cy="103.39" r="2.08"/><circle cx="439.92" cy="101.21" r="2.08"/><circle cx="442.64" cy="99.14" r="2.08"/><circle cx="445.35" cy="97.17" r="2.08"/><circle cx="448.07" cy="95.29" r="2.08"/><circle cx="450.79" cy="93.51" r="2.08"/><circle cx="453.50" cy="91.81" r="2.08"/><circle cx="456.22" cy="90.20" r="2.08"/><circle cx="458.93" cy="88.66" r="2.08"/><circle cx="461.65" cy="87.21" r="2.08"/><circle cx="464.36" cy="85.83" r="2.08"/><circle cx="467.08" cy="84.52" r="2.08"/><circle cx="469.80" cy="83.28" r="2.08"/><circle cx="472.51" cy="82.11" r="2.08"/><circle cx="475.23" cy="81.01" r="2.08"/><circle cx="477.94" cy="79.98" r="2.08"/><circle cx="480.66" cy="79.01" r="2.08"/><circle cx="483.38" cy="78.10" r="2.08"/><circle cx="486.09" cy="77.26" r="2.08"/><circle cx="488.81" cy="76.48" r="2.08"/><circle cx="491.52" cy="75.76" r="2.08"/><circle cx="494.24" cy="75.10" r="2.08"/><circle cx="496.95" cy="74.49" r="2.08"/><circle cx="499.67" cy="73.95" r="2.08"/><circle cx="502.39" cy="73.46" r="2.08"/><circle cx="505.10" cy="73.03" r="2.08"/><circle cx="507.82" cy="72.66" r="2.08"/><circle cx="510.53" cy="72.34" r="2.08"/><circle cx="513.25" cy="72.07" r="2.08"/><circle cx="515.97" cy="71.85" r="2.08"/><circle cx="518.68" cy="71.69" r="2.08"/><circle cx="521.40" cy="71.57" r="2.08"/><circle cx="524.11" cy="71.50" r="2.08"/><circle cx="526.83" cy="71.48" r="2.08"/><circle cx="529.54" cy="71.51" r="2.08"/><circle cx="532.26" cy="71.58" r="2.08"/><circle cx="534.98" cy="71.69" r="2.08"/><circle cx="537.69" cy="71.85" r="2.08"/><circle cx="540.41" cy="72.04" r="2.08"/><circle cx="543.12" cy="72.27" r="2.08"/><circle cx="545.84" cy="72.53" r="2.08"/><circle cx="548.56" cy="72.83" r="2.08"/><circle cx="551.27" cy="73.16" r="2.08"/><circle cx="553.99" cy="73.51" r="2.08"/><circle cx="556.70" cy="73.89" r="2.08"/><circle cx="559.42" cy="74.29" r="2.08"/><circle cx="562.13" cy="74.71" r="2.08"/><circle cx="564.85" cy="75.15" r="2.08"/><circle cx="567.57" cy="75.60" r="2.08"/><circle cx="570.28" cy="76.07" r="2.08"/><circle cx="573.00" cy="76.54" r="2.08"/><circle cx="575.71" cy="77.02" r="2.08"/><circle cx="578.43" cy="77.50" r="2.08"/><circle cx="581.15" cy="77.97" r="2.08"/><circle cx="583.86" cy="78.45" r="2.08"/><circle cx="586.58" cy="78.92" r="2.08"/><circle cx="589.29" cy="79.37" r="2.08"/><circle cx="592.01" cy="79.82" r="2.08"/><circle cx="594.72" cy="80.25" r="2.08"/><circle cx="597.44" cy="80.66" r="2.08"/><circle cx="600.16" cy="81.05" r="2.08"/><circle cx="602.87" cy="81.42" r="2.08"/><circle cx="605.59" cy="81.76" r="2.08"/><circle cx="608.30" cy="82.07" r="2.08"/><circle cx="611.02" cy="82.36" r="2.08"/><circle cx="613.74" cy="82.61" r="2.08"/><circle cx="616.45" cy="82.83" r="2.08"/><circle cx="619.17" cy="83.01" r="2.08"/><circle cx="621.88" cy="83.16" r="2.08"/><circle cx="624.60" cy="83.27" r="2.08"/><circle cx="627.31" cy="83.34" r="2.08"/><circle cx="630.03" cy="83.36" r="2.08"/><circle cx="632.75" cy="83.35" r="2.08"/><circle cx="635.46" cy="83.30" r="2.08"/><circle cx="638.18" cy="83.20" r="2.08"/><circle cx="640.89" cy="83.06" r="2.08"/><circle cx="643.61" cy="82.88" r="2.08"/><circle cx="646.33" cy="82.66" r="2.08"/><circle cx="649.04" cy="82.39" r="2.08"/><circle cx="651.76" cy="82.08" r="2.08"/><circle cx="654.47" cy="81.73" r="2.08"/><circle cx="657.19" cy="81.33" r="2.08"/><circle cx="659.90" cy="80.89" r="2.08"/><circle cx="662.62" cy="80.42" r="2.08"/><circle cx="665.34" cy="79.90" r="2.08"/><circle cx="668.05" cy="79.34" r="2.08"/><circle cx="670.77" cy="78.75" r="2.08"/><circle cx="673.48" cy="78.11" r="2.08"/><circle cx="676.20" cy="78.11" r="2.08"/></g>
<g fill="#d8784b"><circle cx="403.72" cy="139.65" r="2.08"/><circle cx="405.53" cy="137.74" r="2.08"/><circle cx="407.35" cy="134.75" r="2.08"/><circle cx="409.17" cy="131.69" r="2.08"/><circle cx="410.98" cy="128.73" r="2.08"/><circle cx="412.80" cy="125.90" r="2.08"/><circle cx="414.62" cy="123.22" r="2.08"/><circle cx="416.43" cy="120.65" r="2.08"/><circle cx="418.25" cy="118.20" r="2.08"/><circle cx="420.07" cy="115.86" r="2.08"/><circle cx="421.88" cy="113.61" r="2.08"/><circle cx="423.70" cy="111.46" r="2.08"/><circle cx="425.52" cy="109.38" r="2.08"/><circle cx="427.33" cy="107.38" r="2.08"/><circle cx="429.15" cy="105.45" r="2.08"/><circle cx="430.96" cy="103.59" r="2.08"/><circle cx="432.78" cy="101.78" r="2.08"/><circle cx="434.60" cy="100.04" r="2.08"/><circle cx="436.41" cy="98.35" r="2.08"/><circle cx="438.23" cy="96.70" r="2.08"/><circle cx="440.05" cy="95.11" r="2.08"/><circle cx="441.86" cy="93.57" r="2.08"/><circle cx="443.68" cy="92.06" r="2.08"/><circle cx="445.50" cy="90.60" r="2.08"/><circle cx="447.31" cy="89.18" r="2.08"/><circle cx="449.13" cy="87.80" r="2.08"/><circle cx="450.95" cy="86.46" r="2.08"/><circle cx="452.76" cy="85.15" r="2.08"/><circle cx="454.58" cy="83.88" r="2.08"/><circle cx="456.40" cy="82.64" r="2.08"/><circle cx="458.21" cy="81.43" r="2.08"/><circle cx="460.03" cy="80.25" r="2.08"/><circle cx="461.85" cy="79.11" r="2.08"/><circle cx="463.66" cy="77.99" r="2.08"/><circle cx="465.48" cy="76.91" r="2.08"/><circle cx="467.30" cy="75.85" r="2.08"/><circle cx="469.11" cy="74.82" r="2.08"/><circle cx="470.93" cy="73.81" r="2.08"/><circle cx="472.75" cy="72.84" r="2.08"/><circle cx="474.56" cy="71.88" r="2.08"/><circle cx="476.38" cy="70.96" r="2.08"/><circle cx="478.20" cy="70.06" r="2.08"/><circle cx="480.01" cy="69.18" r="2.08"/><circle cx="481.83" cy="68.33" r="2.08"/><circle cx="483.65" cy="67.51" r="2.08"/><circle cx="485.46" cy="66.71" r="2.08"/><circle cx="487.28" cy="65.93" r="2.08"/><circle cx="489.09" cy="65.17" r="2.08"/><circle cx="490.91" cy="64.44" r="2.08"/><circle cx="492.73" cy="63.73" r="2.08"/><circle cx="494.54" cy="63.05" r="2.08"/><circle cx="496.36" cy="62.38" r="2.08"/><circle cx="498.18" cy="61.75" r="2.08"/><circle cx="499.99" cy="61.13" r="2.08"/><circle cx="501.81" cy="60.54" r="2.08"/><circle cx="503.63" cy="59.96" r="2.08"/><circle cx="505.44" cy="59.42" r="2.08"/><circle cx="507.26" cy="58.89" r="2.08"/><circle cx="509.08" cy="58.39" r="2.08"/><circle cx="510.89" cy="57.91" r="2.08"/><circle cx="512.71" cy="57.46" r="2.08"/><circle cx="514.53" cy="57.03" r="2.08"/><circle cx="516.34" cy="56.62" r="2.08"/><circle cx="518.16" cy="56.23" r="2.08"/><circle cx="519.98" cy="55.87" r="2.08"/><circle cx="521.79" cy="55.54" r="2.08"/><circle cx="523.61" cy="55.22" r="2.08"/><circle cx="525.43" cy="54.94" r="2.08"/><circle cx="527.24" cy="54.67" r="2.08"/><circle cx="529.06" cy="54.44" r="2.08"/><circle cx="530.88" cy="54.22" r="2.08"/><circle cx="532.69" cy="54.04" r="2.08"/><circle cx="534.51" cy="53.88" r="2.08"/><circle cx="536.33" cy="53.75" r="2.08"/><circle cx="538.14" cy="53.64" r="2.08"/><circle cx="539.96" cy="53.56" r="2.08"/><circle cx="541.77" cy="53.51" r="2.08"/><circle cx="543.59" cy="53.48" r="2.08"/><circle cx="545.41" cy="53.48" r="2.08"/><circle cx="547.22" cy="53.52" r="2.08"/><circle cx="549.04" cy="53.58" r="2.08"/><circle cx="550.86" cy="53.67" r="2.08"/><circle cx="552.67" cy="53.78" r="2.08"/><circle cx="554.49" cy="53.93" r="2.08"/><circle cx="556.31" cy="54.11" r="2.08"/><circle cx="558.12" cy="54.32" r="2.08"/><circle cx="559.94" cy="54.55" r="2.08"/><circle cx="561.76" cy="54.82" r="2.08"/><circle cx="563.57" cy="55.11" r="2.08"/><circle cx="565.39" cy="55.44" r="2.08"/><circle cx="567.21" cy="55.79" r="2.08"/><circle cx="569.02" cy="56.18" r="2.08"/><circle cx="570.84" cy="56.59" r="2.08"/><circle cx="572.66" cy="57.03" r="2.08"/><circle cx="574.47" cy="57.50" r="2.08"/><circle cx="576.29" cy="58.00" r="2.08"/><circle cx="578.11" cy="58.52" r="2.08"/><circle cx="579.92" cy="59.07" r="2.08"/><circle cx="581.74" cy="59.64" r="2.08"/><circle cx="583.56" cy="60.23" r="2.08"/><circle cx="585.37" cy="60.85" r="2.08"/><circle cx="587.19" cy="61.49" r="2.08"/><circle cx="589.01" cy="62.15" r="2.08"/><circle cx="590.82" cy="62.82" r="2.08"/><circle cx="592.64" cy="63.51" r="2.08"/><circle cx="594.45" cy="64.21" r="2.08"/><circle cx="596.27" cy="64.93" r="2.08"/><circle cx="598.09" cy="65.65" r="2.08"/><circle cx="599.90" cy="66.39" r="2.08"/><circle cx="601.72" cy="67.12" r="2.08"/><circle cx="603.54" cy="67.86" r="2.08"/><circle cx="605.35" cy="68.60" r="2.08"/><circle cx="607.17" cy="69.34" r="2.08"/><circle cx="608.99" cy="70.07" r="2.08"/><circle cx="610.80" cy="70.79" r="2.08"/><circle cx="612.62" cy="71.50" r="2.08"/><circle cx="614.44" cy="72.20" r="2.08"/><circle cx="616.25" cy="72.88" r="2.08"/><circle cx="618.07" cy="73.55" r="2.08"/><circle cx="619.89" cy="74.19" r="2.08"/><circle cx="621.70" cy="74.81" r="2.08"/><circle cx="623.52" cy="75.41" r="2.08"/><circle cx="625.34" cy="75.97" r="2.08"/><circle cx="627.15" cy="76.51" r="2.08"/><circle cx="628.97" cy="77.02" r="2.08"/><circle cx="630.79" cy="77.49" r="2.08"/><circle cx="632.60" cy="77.93" r="2.08"/><circle cx="634.42" cy="78.33" r="2.08"/><circle cx="636.24" cy="78.69" r="2.08"/><circle cx="638.05" cy="79.02" r="2.08"/><circle cx="639.87" cy="79.30" r="2.08"/><circle cx="641.69" cy="79.55" r="2.08"/><circle cx="643.50" cy="79.76" r="2.08"/><circle cx="645.32" cy="79.92" r="2.08"/><circle cx="647.14" cy="80.05" r="2.08"/><circle cx="648.95" cy="80.13" r="2.08"/><circle cx="650.77" cy="80.17" r="2.08"/><circle cx="652.58" cy="80.17" r="2.08"/><circle cx="654.40" cy="80.13" r="2.08"/><circle cx="656.22" cy="80.06" r="2.08"/><circle cx="658.03" cy="79.94" r="2.08"/><circle cx="659.85" cy="79.78" r="2.08"/><circle cx="661.67" cy="79.59" r="2.08"/><circle cx="663.48" cy="79.36" r="2.08"/><circle cx="665.30" cy="79.10" r="2.08"/><circle cx="667.12" cy="78.80" r="2.08"/><circle cx="668.93" cy="78.47" r="2.08"/><circle cx="670.75" cy="78.10" r="2.08"/><circle cx="672.57" cy="77.71" r="2.08"/><circle cx="674.38" cy="77.29" r="2.08"/><circle cx="676.20" cy="77.29" r="2.08"/></g>
<g fill="#8b8dc9"><circle cx="403.26" cy="139.65" r="2.08"/><circle cx="404.63" cy="138.15" r="2.08"/><circle cx="405.99" cy="135.76" r="2.08"/><circle cx="407.36" cy="133.29" r="2.08"/><circle cx="408.72" cy="130.86" r="2.08"/><circle cx="410.09" cy="128.53" r="2.08"/><circle cx="411.45" cy="126.29" r="2.08"/><circle cx="412.82" cy="124.14" r="2.08"/><circle cx="414.18" cy="122.07" r="2.08"/><circle cx="415.55" cy="120.08" r="2.08"/><circle cx="416.91" cy="118.16" r="2.08"/><circle cx="418.28" cy="116.31" r="2.08"/><circle cx="419.64" cy="114.52" r="2.08"/><circle cx="421.01" cy="112.79" r="2.08"/><circle cx="422.37" cy="111.11" r="2.08"/><circle cx="423.73" cy="109.48" r="2.08"/><circle cx="425.10" cy="107.90" r="2.08"/><circle cx="426.46" cy="106.36" r="2.08"/><circle cx="427.83" cy="104.86" r="2.08"/><circle cx="429.19" cy="103.40" r="2.08"/><circle cx="430.56" cy="101.98" r="2.08"/><circle cx="431.92" cy="100.60" r="2.08"/><circle cx="433.29" cy="99.25" r="2.08"/><circle cx="434.65" cy="97.93" r="2.08"/><circle cx="436.02" cy="96.64" r="2.08"/><circle cx="437.38" cy="95.38" r="2.08"/><circle cx="438.75" cy="94.14" r="2.08"/><circle cx="440.11" cy="92.94" r="2.08"/><circle cx="441.48" cy="91.76" r="2.08"/><circle cx="442.84" cy="90.61" r="2.08"/><circle cx="444.20" cy="89.48" r="2.08"/><circle cx="445.57" cy="88.37" r="2.08"/><circle cx="446.93" cy="87.29" r="2.08"/><circle cx="448.30" cy="86.22" r="2.08"/><circle cx="449.66" cy="85.18" r="2.08"/><circle cx="451.03" cy="84.16" r="2.08"/><circle cx="452.39" cy="83.16" r="2.08"/><circle cx="453.76" cy="82.18" r="2.08"/><circle cx="455.12" cy="81.22" r="2.08"/><circle cx="456.49" cy="80.28" r="2.08"/><circle cx="457.85" cy="79.35" r="2.08"/><circle cx="459.22" cy="78.44" r="2.08"/><circle cx="460.58" cy="77.55" r="2.08"/><circle cx="461.95" cy="76.68" r="2.08"/><circle cx="463.31" cy="75.82" r="2.08"/><circle cx="464.68" cy="74.97" r="2.08"/><circle cx="466.04" cy="74.15" r="2.08"/><circle cx="467.40" cy="73.34" r="2.08"/><circle cx="468.77" cy="72.54" r="2.08"/><circle cx="470.13" cy="71.76" r="2.08"/><circle cx="471.50" cy="70.99" r="2.08"/><circle cx="472.86" cy="70.24" r="2.08"/><circle cx="474.23" cy="69.50" r="2.08"/><circle cx="475.59" cy="68.77" r="2.08"/><circle cx="476.96" cy="68.06" r="2.08"/><circle cx="478.32" cy="67.36" r="2.08"/><circle cx="479.69" cy="66.68" r="2.08"/><circle cx="481.05" cy="66.01" r="2.08"/><circle cx="482.42" cy="65.35" r="2.08"/><circle cx="483.78" cy="64.70" r="2.08"/><circle cx="485.15" cy="64.06" r="2.08"/><circle cx="486.51" cy="63.44" r="2.08"/><circle cx="487.87" cy="62.83" r="2.08"/><circle cx="489.24" cy="62.23" r="2.08"/><circle cx="490.60" cy="61.64" r="2.08"/><circle cx="491.97" cy="61.07" r="2.08"/><circle cx="493.33" cy="60.51" r="2.08"/><circle cx="494.70" cy="59.95" r="2.08"/><circle cx="496.06" cy="59.41" r="2.08"/><circle cx="497.43" cy="58.89" r="2.08"/><circle cx="498.79" cy="58.37" r="2.08"/><circle cx="500.16" cy="57.86" r="2.08"/><circle cx="501.52" cy="57.37" r="2.08"/><circle cx="502.89" cy="56.88" r="2.08"/><circle cx="504.25" cy="56.41" r="2.08"/><circle cx="505.62" cy="55.94" r="2.08"/><circle cx="506.98" cy="55.49" r="2.08"/><circle cx="508.34" cy="55.05" r="2.08"/><circle cx="509.71" cy="54.62" r="2.08"/><circle cx="511.07" cy="54.20" r="2.08"/><circle cx="512.44" cy="53.79" r="2.08"/><circle cx="513.80" cy="53.39" r="2.08"/><circle cx="515.17" cy="53.00" r="2.08"/><circle cx="516.53" cy="52.63" r="2.08"/><circle cx="517.90" cy="52.26" r="2.08"/><circle cx="519.26" cy="51.91" r="2.08"/><circle cx="520.63" cy="51.56" r="2.08"/><circle cx="521.99" cy="51.23" r="2.08"/><circle cx="523.36" cy="50.90" r="2.08"/><circle cx="524.72" cy="50.59" r="2.08"/><circle cx="526.09" cy="50.29" r="2.08"/><circle cx="527.45" cy="50.00" r="2.08"/><circle cx="528.81" cy="49.71" r="2.08"/><circle cx="530.18" cy="49.45" r="2.08"/><circle cx="531.54" cy="49.19" r="2.08"/><circle cx="532.91" cy="48.94" r="2.08"/><circle cx="534.27" cy="48.70" r="2.08"/><circle cx="535.64" cy="48.48" r="2.08"/><circle cx="537.00" cy="48.27" r="2.08"/><circle cx="538.37" cy="48.06" r="2.08"/><circle cx="539.73" cy="47.87" r="2.08"/><circle cx="541.10" cy="47.70" r="2.08"/><circle cx="542.46" cy="47.53" r="2.08"/><circle cx="543.83" cy="47.38" r="2.08"/><circle cx="545.19" cy="47.23" r="2.08"/><circle cx="546.56" cy="47.10" r="2.08"/><circle cx="547.92" cy="46.99" r="2.08"/><circle cx="549.29" cy="46.88" r="2.08"/><circle cx="550.65" cy="46.79" r="2.08"/><circle cx="552.01" cy="46.72" r="2.08"/><circle cx="553.38" cy="46.65" r="2.08"/><circle cx="554.74" cy="46.60" r="2.08"/><circle cx="556.11" cy="46.57" r="2.08"/><circle cx="557.47" cy="46.55" r="2.08"/><circle cx="558.84" cy="46.54" r="2.08"/><circle cx="560.20" cy="46.55" r="2.08"/><circle cx="561.57" cy="46.57" r="2.08"/><circle cx="562.93" cy="46.61" r="2.08"/><circle cx="564.30" cy="46.67" r="2.08"/><circle cx="565.66" cy="46.74" r="2.08"/><circle cx="567.03" cy="46.83" r="2.08"/><circle cx="568.39" cy="46.93" r="2.08"/><circle cx="569.76" cy="47.06" r="2.08"/><circle cx="571.12" cy="47.20" r="2.08"/><circle cx="572.48" cy="47.36" r="2.08"/><circle cx="573.85" cy="47.54" r="2.08"/><circle cx="575.21" cy="47.73" r="2.08"/><circle cx="576.58" cy="47.95" r="2.08"/><circle cx="577.94" cy="48.18" r="2.08"/><circle cx="579.31" cy="48.44" r="2.08"/><circle cx="580.67" cy="48.71" r="2.08"/><circle cx="582.04" cy="49.01" r="2.08"/><circle cx="583.40" cy="49.33" r="2.08"/><circle cx="584.77" cy="49.67" r="2.08"/><circle cx="586.13" cy="50.03" r="2.08"/><circle cx="587.50" cy="50.41" r="2.08"/><circle cx="588.86" cy="50.81" r="2.08"/><circle cx="590.23" cy="51.24" r="2.08"/><circle cx="591.59" cy="51.69" r="2.08"/><circle cx="592.95" cy="52.16" r="2.08"/><circle cx="594.32" cy="52.65" r="2.08"/><circle cx="595.68" cy="53.16" r="2.08"/><circle cx="597.05" cy="53.70" r="2.08"/><circle cx="598.41" cy="54.26" r="2.08"/><circle cx="599.78" cy="54.83" r="2.08"/><circle cx="601.14" cy="55.43" r="2.08"/><circle cx="602.51" cy="56.05" r="2.08"/><circle cx="603.87" cy="56.69" r="2.08"/><circle cx="605.24" cy="57.34" r="2.08"/><circle cx="606.60" cy="58.02" r="2.08"/><circle cx="607.97" cy="58.71" r="2.08"/><circle cx="609.33" cy="59.41" r="2.08"/><circle cx="610.70" cy="60.13" r="2.08"/><circle cx="612.06" cy="60.86" r="2.08"/><circle cx="613.42" cy="61.60" r="2.08"/><circle cx="614.79" cy="62.35" r="2.08"/><circle cx="616.15" cy="63.11" r="2.08"/><circle cx="617.52" cy="63.87" r="2.08"/><circle cx="618.88" cy="64.63" r="2.08"/><circle cx="620.25" cy="65.40" r="2.08"/><circle cx="621.61" cy="66.17" r="2.08"/><circle cx="622.98" cy="66.93" r="2.08"/><circle cx="624.34" cy="67.68" r="2.08"/><circle cx="625.71" cy="68.43" r="2.08"/><circle cx="627.07" cy="69.17" r="2.08"/><circle cx="628.44" cy="69.89" r="2.08"/><circle cx="629.80" cy="70.60" r="2.08"/><circle cx="631.17" cy="71.29" r="2.08"/><circle cx="632.53" cy="71.96" r="2.08"/><circle cx="633.90" cy="72.61" r="2.08"/><circle cx="635.26" cy="73.24" r="2.08"/><circle cx="636.62" cy="73.83" r="2.08"/><circle cx="637.99" cy="74.41" r="2.08"/><circle cx="639.35" cy="74.95" r="2.08"/><circle cx="640.72" cy="75.46" r="2.08"/><circle cx="642.08" cy="75.94" r="2.08"/><circle cx="643.45" cy="76.38" r="2.08"/><circle cx="644.81" cy="76.79" r="2.08"/><circle cx="646.18" cy="77.16" r="2.08"/><circle cx="647.54" cy="77.50" r="2.08"/><circle cx="648.91" cy="77.80" r="2.08"/><circle cx="650.27" cy="78.06" r="2.08"/><circle cx="651.64" cy="78.29" r="2.08"/><circle cx="653.00" cy="78.48" r="2.08"/><circle cx="654.37" cy="78.63" r="2.08"/><circle cx="655.73" cy="78.74" r="2.08"/><circle cx="657.09" cy="78.82" r="2.08"/><circle cx="658.46" cy="78.86" r="2.08"/><circle cx="659.82" cy="78.87" r="2.08"/><circle cx="661.19" cy="78.84" r="2.08"/><circle cx="662.55" cy="78.78" r="2.08"/><circle cx="663.92" cy="78.68" r="2.08"/><circle cx="665.28" cy="78.56" r="2.08"/><circle cx="666.65" cy="78.40" r="2.08"/><circle cx="668.01" cy="78.21" r="2.08"/><circle cx="669.38" cy="77.99" r="2.08"/><circle cx="670.74" cy="77.75" r="2.08"/><circle cx="672.11" cy="77.48" r="2.08"/><circle cx="673.47" cy="77.19" r="2.08"/><circle cx="674.84" cy="76.87" r="2.08"/><circle cx="676.20" cy="76.87" r="2.08"/></g>
</g>
<g stroke="#727272" stroke-width="0.62" fill="none" shape-rendering="auto"><path d="M396.5 37.1V213.1H682"/><path d="M402.20 213.1v-3.6M415.91 213.1v-2.2M429.63 213.1v-2.2M443.34 213.1v-2.2M457.06 213.1v-3.6M470.77 213.1v-2.2M484.49 213.1v-2.2M498.20 213.1v-2.2M511.92 213.1v-3.6M525.63 213.1v-2.2M539.35 213.1v-2.2M553.06 213.1v-2.2M566.78 213.1v-3.6M580.50 213.1v-2.2M594.21 213.1v-2.2M607.92 213.1v-2.2M621.64 213.1v-3.6M635.36 213.1v-2.2M649.07 213.1v-2.2M662.78 213.1v-2.2M676.50 213.1v-3.6M396.5 210.30h3.6M396.5 202.55h2.2M396.5 194.80h2.2M396.5 187.05h2.2M396.5 179.30h2.2M396.5 171.55h3.6M396.5 163.80h2.2M396.5 156.05h2.2M396.5 148.30h2.2M396.5 140.55h2.2M396.5 132.80h3.6M396.5 125.05h2.2M396.5 117.30h2.2M396.5 109.55h2.2M396.5 101.80h2.2M396.5 94.05h3.6M396.5 86.30h2.2M396.5 78.55h2.2M396.5 70.80h2.2M396.5 63.05h2.2M396.5 55.30h3.6M396.5 47.55h2.2M396.5 39.80h2.2"/></g>
<text x="402.2" y="227.2" font-size="11" text-anchor="middle">0</text><text x="457.1" y="227.2" font-size="11" text-anchor="middle">20</text><text x="511.9" y="227.2" font-size="11" text-anchor="middle">40</text><text x="566.8" y="227.2" font-size="11" text-anchor="middle">60</text><text x="621.6" y="227.2" font-size="11" text-anchor="middle">80</text><text x="676.5" y="227.2" font-size="11" text-anchor="middle">100</text><text x="393.2" y="213.9" font-size="11" text-anchor="end">0.00</text><text x="393.2" y="175.2" font-size="11" text-anchor="end">0.05</text><text x="393.2" y="136.4" font-size="11" text-anchor="end">0.10</text><text x="393.2" y="97.6" font-size="11" text-anchor="end">0.15</text><text x="393.2" y="58.9" font-size="11" text-anchor="end">0.20</text>
<text x="402.0" y="49.3" font-size="16.5">r=1.1</text><text x="400.2" y="203.1" font-size="16.7" font-style="italic">K<tspan font-size="11.7" dx="0.2" dy="3.4">N</tspan></text><text x="661.2" y="203.3" font-size="16.7" font-style="italic">S<tspan font-size="11.7" dx="0.2" dy="3.2">N</tspan></text><text x="539.1" y="248.8" font-size="13.4" text-anchor="middle" textLength="154.8" lengthAdjust="spacingAndGlyphs">Percentage of tail vertices</text><text transform="translate(360.0 126.0) rotate(-90)" font-size="13.5" text-anchor="middle" textLength="110.6" lengthAdjust="spacingAndGlyphs">Fixation probability</text>
</svg>
</body></html>
